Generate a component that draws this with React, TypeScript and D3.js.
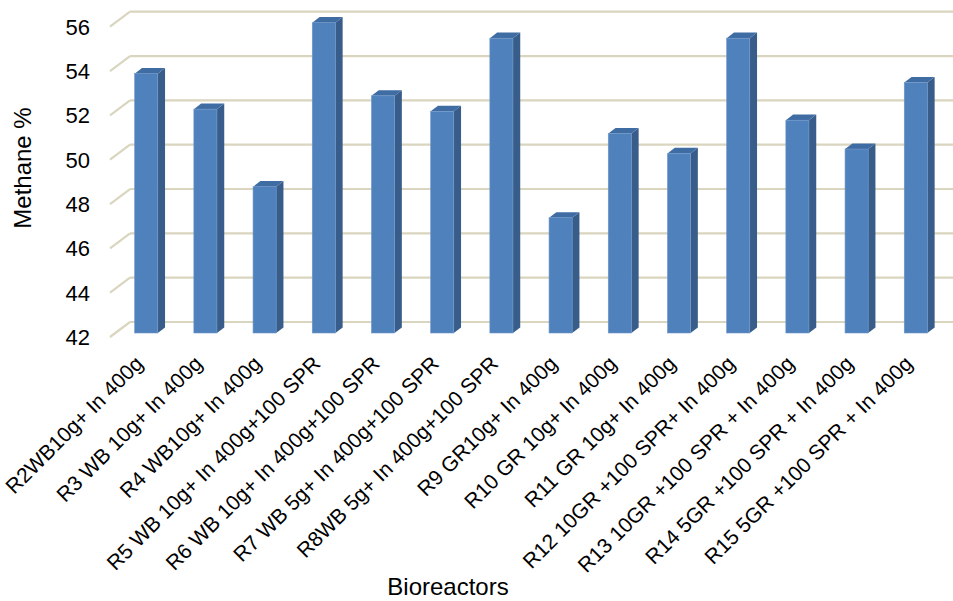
import React from "react";
import * as d3 from "d3";

// Methane content per bioreactor
const categories: string[] = [
  "R2WB10g+ In 400g",
  "R3 WB 10g+ In 400g",
  "R4 WB10g+ In 400g",
  "R5 WB 10g+ In 400g+100 SPR",
  "R6 WB 10g+ In 400g+100 SPR",
  "R7 WB 5g+ In 400g+100 SPR",
  "R8WB 5g+ In 400g+100 SPR",
  "R9 GR10g+ In 400g",
  "R10 GR 10g+ In 400g",
  "R11 GR 10g+ In 400g",
  "R12 10GR +100 SPR+ In 400g",
  "R13 10GR +100 SPR + In 400g",
  "R14 5GR +100 SPR + In 400g",
  "R15 5GR +100 SPR + In 400g",
];
const methane: number[] = [53.7, 52.1, 48.6, 56.0, 52.7, 52.0, 55.3, 47.2, 51.0, 50.1, 55.3, 51.6, 50.3, 53.3];
const yTicks: number[] = [42, 44, 46, 48, 50, 52, 54, 56];

const W = 953;
const H = 601;

// 3D geometry: front plane, back wall offset, bar depth
const wallDX = 20;
const wallDY = 15;
const frontLeft = 110;
const wallRight = 953;
const barDX = 7.3;
const barDY = 5.6;
const barShift = 4; // bar front face sits slightly behind the front plane

const FONT = "'Liberation Sans', Arial, sans-serif";

export default function App() {
  const y = d3.scaleLinear().domain([42, 56]).range([337, 26.7]);
  const x = d3
    .scaleBand<string>()
    .domain(categories)
    .range([116.6, 116.6 + 14 * 59.2])
    .paddingInner(0.61)
    .paddingOuter(0.305);

  const bw = x.bandwidth();
  const yBar = (v: number) => y(v) - barShift;
  const base = yBar(42);

  return (
    <svg width={W} height={H} style={{ position: "absolute", left: 0, top: 0, background: "#fff" }}>
      {/* back wall gridlines with left wall diagonals */}
      <g stroke="#D9D5BF" strokeWidth={2.2} fill="none">
        {yTicks.map((t) => (
          <g key={t}>
            <line x1={frontLeft} y1={y(t)} x2={frontLeft + wallDX} y2={y(t) - wallDY} />
            <line x1={frontLeft + wallDX} y1={y(t) - wallDY} x2={wallRight} y2={y(t) - wallDY} />
          </g>
        ))}
      </g>

      {/* bars */}
      <g>
        {methane.map((v, i) => {
          const x0 = x(categories[i]) as number;
          const x1 = x0 + bw;
          const yt = yBar(v);
          const top = `M${x0},${yt} L${x0 + barDX},${yt - barDY} L${x1 + barDX},${yt - barDY} L${x1},${yt} Z`;
          const side = `M${x1},${yt} L${x1 + barDX},${yt - barDY} L${x1 + barDX},${base - barDY} L${x1},${base} Z`;
          return (
            <g key={i}>
              <path d={side} fill="#385D8A" />
              <path d={top} fill="#3F6CA3" />
              <rect x={x0} y={yt} width={bw} height={base - yt} fill="#4F81BD" stroke="#6E97C8" strokeWidth={0.6} />
            </g>
          );
        })}
      </g>

      {/* y tick labels */}
      <g fontFamily={FONT} fontSize={22} fill="#000" textAnchor="end">
        {yTicks.map((t) => (
          <text key={t} x={90} y={y(t)} dy="0.36em">
            {t}
          </text>
        ))}
      </g>

      {/* x tick labels */}
      <g fontFamily={FONT} fontSize={21} fill="#000" textAnchor="end">
        {categories.map((c) => {
          const cx = (x(c) as number) + bw / 2 - 2;
          const cy = 365;
          return (
            <text key={c} transform={`translate(${cx},${cy}) rotate(-45)`}>
              {c}
            </text>
          );
        })}
      </g>

      {/* axis titles */}
      <text
        fontFamily={FONT}
        fontSize={24}
        textAnchor="middle"
        transform={`translate(31,168) rotate(-90)`}
      >
        Methane %
      </text>
      <text fontFamily={FONT} fontSize={24} textAnchor="middle" x={448} y={595}>
        Bioreactors
      </text>
    </svg>
  );
}
